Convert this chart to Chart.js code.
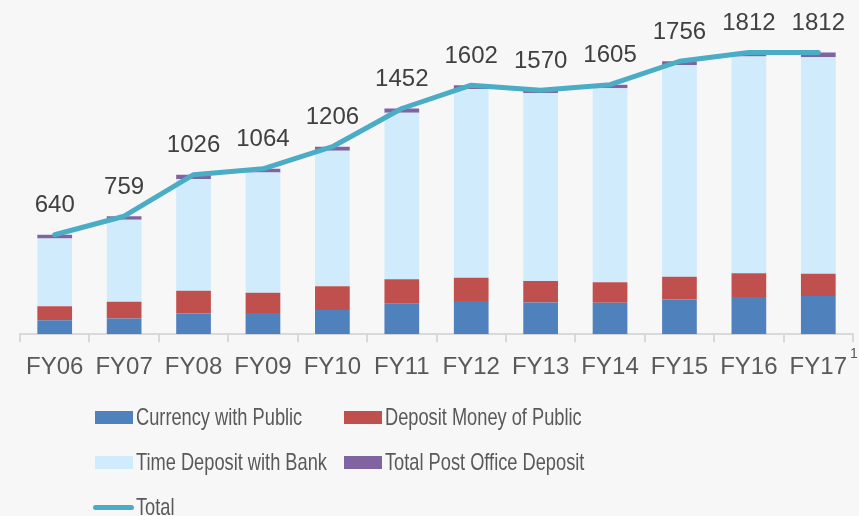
<!DOCTYPE html>
<html>
<head>
<meta charset="utf-8">
<script src="https://cdn.jsdelivr.net/npm/chart.js@4.4.1/dist/chart.umd.min.js"></script>
<style>
  html, body { margin: 0; padding: 0; background: #f7f7f7; }
  #wrap { position: relative; width: 859px; height: 516px; overflow: hidden; }
  #chart { position: absolute; left: 0; top: 0; }
  .legend { position: absolute; font-family: "Liberation Sans", Arial, sans-serif; font-size: 24px; color: #595959; }
  .item { position: absolute; white-space: nowrap; height: 26px; line-height: 26px; }
  .sw { position: absolute; left: 0; top: 7px; width: 38px; height: 13px; }
  .sw.line { top: 11px; height: 5px; border-radius: 3px; width: 41px; left: -2px; }
  .txt { position: absolute; left: 41px; top: 0; transform: scaleX(0.76); transform-origin: left center; }
</style>
</head>
<body>
<div id="wrap">
  <canvas id="chart" width="859" height="516"></canvas>
  <div class="legend" id="legend"></div>
</div>
<script>
// Data
const years = ['FY06', 'FY07', 'FY08', 'FY09', 'FY10', 'FY11', 'FY12', 'FY13', 'FY14', 'FY15', 'FY16', 'FY17'];
const currencyWithPublic = [90, 101, 133, 137, 155, 196, 213, 204, 202, 224, 239, 245];
const depositMoneyOfPublic = [90, 107, 146, 129, 153, 157, 150, 139, 133, 146, 153, 144];
const timeDepositWithBank = [436, 529, 719, 774, 872, 1071, 1215, 1209, 1248, 1362, 1394, 1393];
const postOfficeDeposit = [24, 22, 28, 24, 26, 28, 24, 18, 22, 24, 26, 30];
const totals = [640, 759, 1026, 1064, 1206, 1452, 1602, 1570, 1605, 1756, 1812, 1812];

const colors = {
    currency: '#4f81bd',
    deposit: '#c0504d',
    time: '#cfebfc',
    post: '#8064a2',
    total: '#4bacc6'
};

// Total labels above the line + footnote marker after the last tick
const totalLabels = {
    id: 'totalLabels',
    afterDatasetsDraw(chart) {
        const ctx = chart.ctx;
        const meta = chart.getDatasetMeta(4);
        ctx.save();
        ctx.fillStyle = '#404040';
        ctx.font = '24px "Liberation Sans", Arial, sans-serif';
        ctx.textAlign = 'center';
        ctx.textBaseline = 'middle';
        meta.data.forEach((pt, i) => {
            ctx.fillText(String(totals[i]), pt.x, pt.y - 29);
        });
        const x = chart.scales.x;
        ctx.fillStyle = '#595959';
        ctx.font = '14px "Liberation Sans", Arial, sans-serif';
        ctx.textAlign = 'left';
        ctx.fillText('1', x.right - 3, chart.chartArea.bottom + 20);
        ctx.restore();
    }
};

const chart = new Chart(document.getElementById('chart'), {
    type: 'bar',
    data: {
        labels: years,
        datasets: [
            { label: 'Currency with Public', data: currencyWithPublic, backgroundColor: colors.currency, stack: 'bars', order: 2 },
            { label: 'Deposit Money of Public', data: depositMoneyOfPublic, backgroundColor: colors.deposit, stack: 'bars', order: 2 },
            { label: 'Time Deposit with Bank', data: timeDepositWithBank, backgroundColor: colors.time, stack: 'bars', order: 2 },
            { label: 'Total Post Office Deposit', data: postOfficeDeposit, backgroundColor: colors.post, stack: 'bars', order: 2 },
            {
                type: 'line',
                label: 'Total',
                data: totals,
                stack: 'line',
                order: 1,
                borderColor: colors.total,
                borderWidth: 5,
                borderCapStyle: 'round',
                borderJoinStyle: 'round',
                pointRadius: 0,
                tension: 0,
                fill: false
            }
        ]
    },
    options: {
        responsive: false,
        animation: false,
        devicePixelRatio: 1,
        categoryPercentage: 1,
        barPercentage: 0.5,
        layout: { padding: { left: 20, right: 6, top: 0, bottom: 123 } },
        scales: {
            x: {
                stacked: true,
                border: { display: true, color: '#d9d9d9', width: 2 },
                grid: { display: true, drawOnChartArea: false, drawTicks: true, tickLength: 8, color: '#d9d9d9', lineWidth: 2, offset: true },
                ticks: { color: '#595959', font: { family: '"Liberation Sans", Arial, sans-serif', size: 24 }, padding: 11, maxRotation: 0, autoSkip: false }
            },
            y: {
                stacked: true,
                display: false,
                min: 0,
                max: 2150
            }
        },
        plugins: {
            legend: { display: false },
            tooltip: { enabled: false }
        }
    },
    plugins: [totalLabels]
});

// HTML legend, two columns like the original
const legendItems = [
    { text: 'Currency with Public', color: colors.currency, x: 95, y: 404 },
    { text: 'Deposit Money of Public', color: colors.deposit, x: 344, y: 404 },
    { text: 'Time Deposit with Bank', color: colors.time, x: 95, y: 449 },
    { text: 'Total Post Office Deposit', color: colors.post, x: 344, y: 449 },
    { text: 'Total', color: colors.total, x: 95, y: 494, line: true }
];
const legendEl = document.getElementById('legend');
legendItems.forEach(it => {
    const d = document.createElement('div');
    d.className = 'item';
    d.style.left = it.x + 'px';
    d.style.top = it.y + 'px';
    d.innerHTML = '<span class="sw' + (it.line ? ' line' : '') + '" style="background:' + it.color + '"></span><span class="txt">' + it.text + '</span>';
    legendEl.appendChild(d);
});
</script>
</body>
</html>
